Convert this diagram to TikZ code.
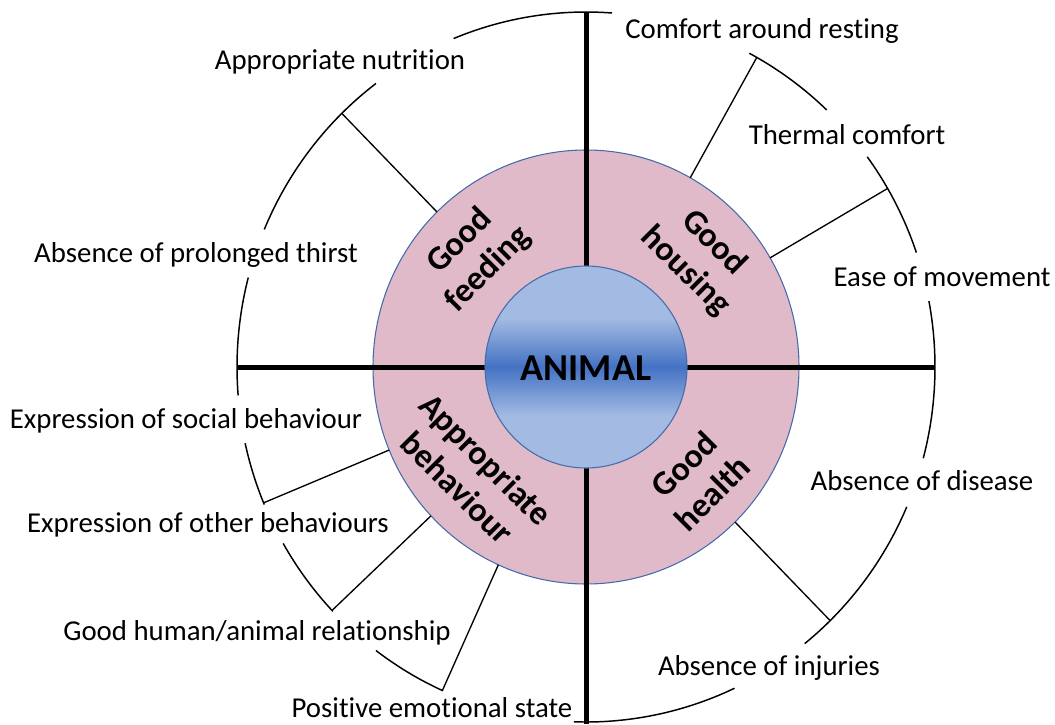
\documentclass[tikz,border=0pt]{standalone}
\usepackage{fontspec}
\setmainfont[Ligatures=NoCommon]{Carlito}
\definecolor{ringpink}{RGB}{224,186,201}
\definecolor{ringedge}{RGB}{68,108,170}
\definecolor{corelight}{RGB}{163,186,226}
\definecolor{coredark}{RGB}{68,114,196}
% light band, dark middle, light band
\pgfdeclareverticalshading{coreshade}{100bp}{color(0bp)=(corelight); color(38bp)=(corelight); color(50bp)=(coredark); color(62bp)=(corelight); color(100bp)=(corelight)}

\begin{document}
\begin{tikzpicture}[x=0.75pt,y=0.75pt,
  crit/.style={font=\fontsize{21.6}{26}\selectfont, anchor=base, inner sep=0pt},
  principle/.style={font=\bfseries\fontsize{25.5}{30}\selectfont, align=center, inner sep=0pt},
  axisline/.style={line width=3.75pt},
  rim/.style={line width=1.1pt},
  link/.style={line width=1pt}]
\useasboundingbox (-586,-357) rectangle (469,367);

% pink ring of the four principles
\fill[ringpink, draw=ringedge, line width=0.8pt] (0,0) circle[x radius=213, y radius=217];

% the two axes dividing the principles
\coordinate (axN) at (0,355);
\coordinate (axS) at (0,-357);
\coordinate (axW) at (-349,0);
\coordinate (axE) at (349,0);
\draw[axisline] (axN) -- (axS);
\draw[axisline] (axW) -- (axE);

% central disc
\shadedraw[shading=coreshade, draw=ringedge, line width=0.8pt] (0,0) circle[radius=101];
\node[font=\bfseries\fontsize{28.5}{34}\selectfont, inner sep=0pt] (animal) at (0,-1) {ANIMAL};

% principle labels
\node[principle, rotate=45]  (feeding)   at (135:158) {Good\\feeding};
\node[principle, rotate=-45] (housing)   at (44:158)  {Good\\housing};
\node[principle, rotate=-45] (behaviour) at (223:156) {Appropriate\\behaviour};
\node[principle, rotate=45]  (health)    at (315:158) {Good\\health};

% outer rim segments
\foreach \a/\b in {85.7/112.3, 127/157.2, 165.4/184.6, 192.4/202.8, 209.8/223.5,
                   233/245.8, 268/295.2, 308.8/336.8, 345.1/370.7, 18.8/36.3, 46.4/62.1}
  \draw[rim] (\a:349 and 355) arc[start angle=\a, end angle=\b, x radius=349, y radius=355];

% links from the ring to the rim
\foreach \a/\n in {60.7/r1, 30.2/r2, 134.4/f1, 202.5/b1, 223.3/b2, 245.7/b3, 314.4/h1} {
  \coordinate (in\n) at (\a:213 and 217);
  \coordinate (out\n) at (\a:349 and 355);
  \draw[link] (in\n) -- (out\n);
}

% criteria
\node[crit] (resting)   at (176,328)  {Comfort around resting};
\node[crit] (thermal)   at (261,222)  {Thermal comfort};
\node[crit] (movement)  at (356,80)   {Ease of movement};
\node[crit] (nutrition) at (-246,297) {Appropriate nutrition};
\node[crit] (thirst)    at (-390,104) {Absence of prolonged thirst};
\node[crit] (social)    at (-400,-61) {Expression of social behaviour};
\node[crit] (other)     at (-378,-165) {Expression of other behaviours};
\node[crit] (human)     at (-329,-273) {Good human/animal relationship};
\node[crit] (emotional) at (-154,-350) {Positive emotional state};
\node[crit] (disease)   at (336,-123) {Absence of disease};
\node[crit] (injuries)  at (183,-308) {Absence of injuries};
\end{tikzpicture}
\end{document}
